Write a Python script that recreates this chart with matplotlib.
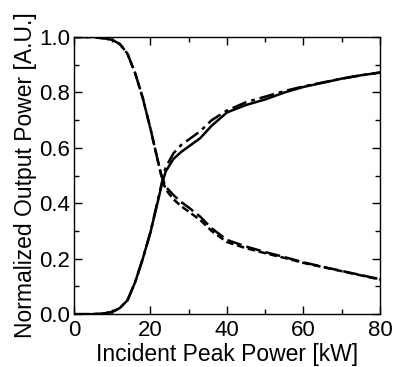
import matplotlib.pyplot as plt
from matplotlib.ticker import MultipleLocator

plt.rcParams['font.family'] = ['Liberation Sans', 'DejaVu Sans']

# incident peak power [kW]
power = [0, 5, 8, 10, 12, 14, 16, 18, 20, 22, 23, 24, 26, 28, 30, 33, 36,
         40, 45, 50, 55, 60, 65, 70, 75, 80]

# transmitted (rising) curves
rise_solid = [0.0, 0.0, 0.003, 0.008, 0.022, 0.05, 0.115, 0.2, 0.295, 0.41,
              0.47, 0.515, 0.56, 0.585, 0.605, 0.635, 0.68, 0.728, 0.755,
              0.775, 0.80, 0.82, 0.835, 0.85, 0.862, 0.872]
rise_dashdot = [0.0, 0.0, 0.003, 0.008, 0.022, 0.05, 0.115, 0.2, 0.295, 0.415,
                0.475, 0.53, 0.58, 0.61, 0.63, 0.66, 0.70, 0.735, 0.765,
                0.785, 0.805, 0.822, 0.836, 0.85, 0.862, 0.872]

# reflected (falling) curves
fall_dash = [1.0, 1.0, 0.995, 0.99, 0.975, 0.94, 0.87, 0.78, 0.67, 0.55,
             0.49, 0.45, 0.415, 0.39, 0.37, 0.34, 0.30, 0.26, 0.238, 0.22,
             0.203, 0.185, 0.17, 0.155, 0.14, 0.125]
fall_longdash = [1.0, 1.0, 0.995, 0.99, 0.975, 0.94, 0.87, 0.78, 0.67, 0.55,
                 0.495, 0.46, 0.43, 0.405, 0.385, 0.352, 0.31, 0.268, 0.244,
                 0.224, 0.206, 0.187, 0.171, 0.156, 0.141, 0.126]

fig = plt.figure(figsize=(3.93, 3.67), dpi=100)
ax = fig.add_axes([0.188, 0.144, 0.779, 0.755])

ax.plot(power, rise_solid, color='black', lw=1.8, ls='-')
ax.plot(power, rise_dashdot, color='black', lw=1.8, ls=(0, (6, 2, 1.5, 2)))
ax.plot(power, fall_dash, color='black', lw=1.8, ls=(0, (3, 1.5)))
ax.plot(power, fall_longdash, color='black', lw=1.8, ls=(0, (6, 2)))

ax.set_xlim(0, 80)
ax.set_ylim(0, 1.0)
ax.xaxis.set_major_locator(MultipleLocator(20))
ax.xaxis.set_minor_locator(MultipleLocator(10))
ax.yaxis.set_major_locator(MultipleLocator(0.2))
ax.yaxis.set_minor_locator(MultipleLocator(0.1))
ax.yaxis.set_major_formatter(plt.FormatStrFormatter('%.1f'))
ax.tick_params(which='both', direction='in', top=True, right=True,
               labelsize=16, width=1)
ax.tick_params(which='major', length=6)
ax.tick_params(which='minor', length=3.5)
ax.tick_params(axis='x', which='major', pad=4)
ax.tick_params(axis='y', which='major', pad=2.5)
for s in ax.spines.values():
    s.set_linewidth(1)

ax.set_xlabel('Incident Peak Power [kW]', fontsize=16.5, labelpad=2)
ax.set_ylabel('Normalized Output Power [A.U.]', fontsize=16.5, labelpad=2)

fig.savefig('out.png', dpi=100)
